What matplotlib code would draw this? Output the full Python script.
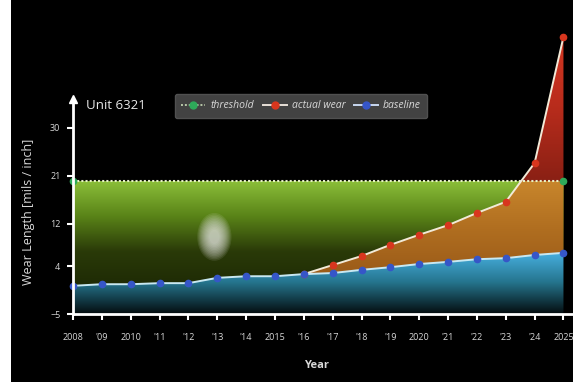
import numpy as np
import matplotlib as mpl
mpl.use('Agg')
from matplotlib import pyplot as plt
from matplotlib.path import Path
from matplotlib.patches import Rectangle, Ellipse
from matplotlib.lines import Line2D
from matplotlib.colors import LinearSegmentedColormap

plt.rcParams['font.family'] = ['Open Sans', 'DejaVu Sans']

years = np.arange(2008, 2026)
year_labels = ['2008', "'09", '2010', "'11", "'12", "'13", "'14", '2015', "'16",
               "'17", "'18", "'19", '2020', "'21", "'22", "'23", "'24", '2025']
baseline = np.array([0.3, 0.6, 0.6, 0.8, 0.8, 1.8, 2.1, 2.1, 2.5,
                     2.7, 3.3, 3.8, 4.4, 4.8, 5.3, 5.5, 6.1, 6.5])
wear_years = np.arange(2016, 2026)
actual_wear = np.array([2.5, 4.2, 5.9, 8.0, 9.9, 11.7, 14.0, 16.1, 23.4, 47.1])
threshold = np.full(len(years), 20.0)
y_ticks = [-5, 4, 12, 21, 30]

# wear follows the baseline until it starts to diverge
wear_full = baseline.copy()
wear_full[years >= 2016] = actual_wear

fig = plt.figure(figsize=(5.77, 3.86), dpi=100, facecolor='white')
fig.patches.append(Rectangle((11 / 577, 4 / 386), 562 / 577, 1, transform=fig.transFigure,
                             facecolor='black', edgecolor='none', zorder=-10))
ax = fig.add_axes([73 / 577, 1 - 314 / 386, 502 / 577, 284 / 386])
ax.set_facecolor('none')


def shade(coll, colors, y0, y1, z):
    # vertical gradient clipped to the fill_between polygon
    path = Path.make_compound_path(*coll.get_paths())
    coll.remove()
    cmap = LinearSegmentedColormap.from_list('g', colors)
    grad = np.linspace(0, 1, 256).reshape(-1, 1)
    im = ax.imshow(grad, cmap=cmap, origin='lower', aspect='auto',
                   extent=(2008, 2025, y0, y1), zorder=z, interpolation='bilinear')
    im.set_clip_path(path, ax.transData)


shade(ax.fill_between(years, -5, baseline), ['#040c0e', '#25758e', '#4ab4e6'], -5, 7, 1)
shade(ax.fill_between(years, baseline, threshold), ['#1e2a05', '#2a3a08', '#5a8418', '#8cc03a'], 0, 20, 1)
shade(ax.fill_between(years, baseline, wear_full), ['#9a5a18', '#b06e20', '#c8862c'], 2, 20, 2)
shade(ax.fill_between(years, threshold, wear_full, where=wear_full > threshold, interpolate=True),
      ['#8a2014', '#b82c1c', '#d63822'], 20, 48, 3)

ax.plot(years, threshold, color='#e6f0c8', lw=1.5, ls=(0, (1, 1)), marker='o', ms=4.5,
        mfc='#2eaa5a', mec='#2eaa5a', markevery=[0, -1], zorder=5, clip_on=False)
ax.plot(wear_years, actual_wear, color='#f2ead8', lw=1.4, marker='o', ms=4.5,
        mfc='#d8361e', mec='#d8361e', zorder=6, clip_on=False)
ax.plot(years, baseline, color='#c8e8f2', lw=1.4, marker='o', ms=4.5,
        mfc='#3656c8', mec='#3656c8', zorder=6, clip_on=False)

# soft glare spot
for k in range(12):
    s = 1.25 - k * 0.08
    ax.add_patch(Ellipse((2012.9, 9.5), 0.95 * s, 7.2 * s, facecolor='#eeeeee',
                         edgecolor='none', alpha=0.1, zorder=7))

ax.set_xlim(2008, 2025.4)
ax.set_ylim(-5, 48.4)
ax.set_xticks(years)
ax.set_xticklabels(year_labels)
ax.set_yticks(y_ticks)
for s in ['top', 'right']:
    ax.spines[s].set_visible(False)
ax.spines['left'].set_bounds(-5, 35)
for s in ['left', 'bottom']:
    ax.spines[s].set_color('white')
    ax.spines[s].set_linewidth(2)
    ax.spines[s].set_zorder(8)
ax.plot([2008], [35.5], marker='^', ms=6, color='white', clip_on=False, zorder=9)
ax.tick_params(colors='white', width=1.5, length=4, labelcolor='#d8d8d8', labelsize=6.5, pad=10)
ax.tick_params(axis='y', pad=5)

ax.set_xlabel('Year', color='#d8d8d8', fontsize=8, fontweight='bold')
ax.xaxis.set_label_coords((317 - 73) / 502, -(360 - 314) / 284)
ax.set_ylabel('Wear Length [mils / inch]', color='#d8d8d8', fontsize=9)
ax.yaxis.set_label_coords(-(73 - 35) / 502, (314 - 212) / 284)
fig.text(86 / 577, 1 - 105 / 386, 'Unit 6321', color='#e8e8e8', fontsize=9.5, va='center')

handles = [
    Line2D([], [], color='#b8c8a8', ls=(0, (1, 1)), lw=1.4, marker='o', ms=5, mfc='#2eaa5a', mec='#2eaa5a'),
    Line2D([], [], color='#e8e0d8', lw=1.4, marker='o', ms=5, mfc='#d8361e', mec='#d8361e'),
    Line2D([], [], color='#c8d8f0', lw=1.4, marker='o', ms=5, mfc='#3656c8', mec='#3656c8'),
]
leg = fig.legend(handles, ['threshold', 'actual wear', 'baseline'], ncol=3,
                 loc='upper left', bbox_to_anchor=(170 / 577, 1 - 89 / 386),
                 prop={'style': 'italic', 'size': 7.5}, facecolor='#424242',
                 edgecolor='#505050', framealpha=1, handlelength=2.3, columnspacing=0.8,
                 handletextpad=0.5, borderpad=0.6)
for t in leg.get_texts():
    t.set_color('#d8d8d8')

fig.savefig('out.png', dpi=100, facecolor='white')
